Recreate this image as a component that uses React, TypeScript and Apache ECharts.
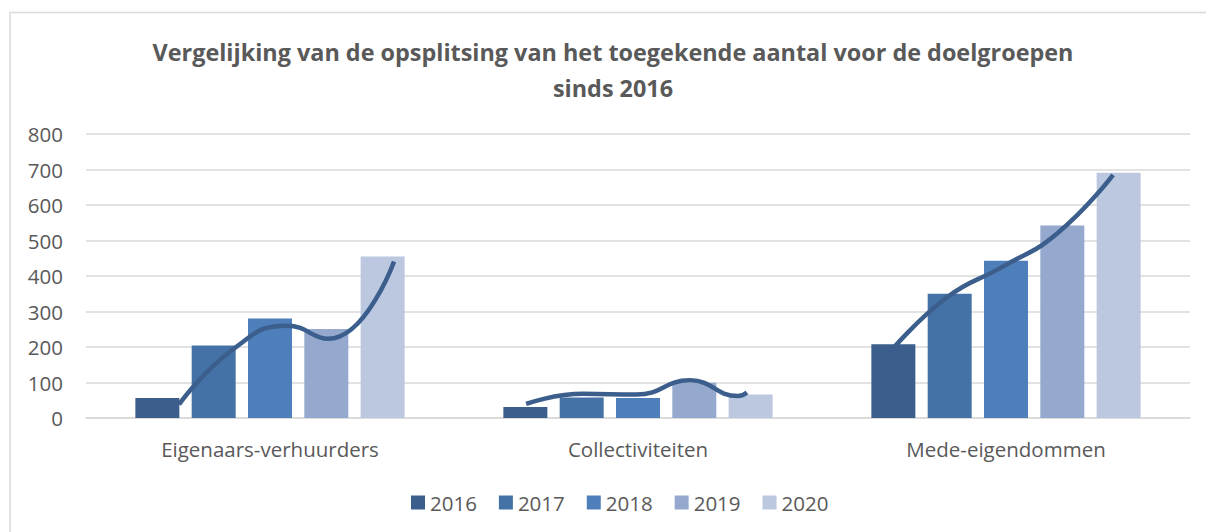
import React, { useEffect, useRef } from "react";
import * as echarts from "echarts";

const categories = ["Eigenaars-verhuurders", "Collectiviteiten", "Mede-eigendommen"];
const years = ["2016", "2017", "2018", "2019", "2020"];
const values2016 = [56, 31, 208];
const values2017 = [204, 58, 350];
const values2018 = [280, 56, 443];
const values2019 = [251, 99, 542];
const values2020 = [455, 66, 691];
const seriesValues = [values2016, values2017, values2018, values2019, values2020];
const yTicks = [0, 100, 200, 300, 400, 500, 600, 700, 800];
const titleText = "Vergelijking van de opsplitsing van het toegekende aantal voor de doelgroepen\nsinds 2016";

// trend curves drawn over each group: [position in category units, value]
const curveEigenaars = [[0.253, 38], [0.399, 193], [0.546, 260], [0.658, 223], [0.837, 441]];
const curveCollectiviteiten = [[1.196, 40], [1.351, 68], [1.495, 66], [1.641, 106], [1.772, 62], [1.796, 72]];
const curveMede = [[2.19, 192], [2.34, 340], [2.489, 425], [2.639, 520], [2.791, 685]];
const curves = [curveEigenaars, curveCollectiviteiten, curveMede];

const colors = ["#3B5E8C", "#4472A6", "#4E7FBA", "#95A9CF", "#BBC8E0"];
const FONT = "'Open Sans', 'Noto Sans', sans-serif";

export default function App() {
  const ref = useRef<HTMLDivElement>(null);
  useEffect(() => {
    if (!ref.current) return;
    const chart = echarts.init(ref.current, undefined, { renderer: "svg" });
    const barSeries = years.map((y, i) => ({
      name: y,
      type: "bar",
      xAxisIndex: 0,
      yAxisIndex: 0,
      data: seriesValues[i],
      barWidth: 44,
      barGap: "28%",
      itemStyle: { color: colors[i] },
      z: 2,
    }));
    const lineSeries = curves.map((c, i) => ({
      name: "curve" + i,
      type: "line",
      xAxisIndex: 1,
      yAxisIndex: 0,
      data: c,
      smooth: 0.5,
      symbol: "none",
      lineStyle: { color: "#3B5E8C", width: 4.5 },
      z: 5,
    }));
    chart.setOption({
      animation: false,
      backgroundColor: "#ffffff",
      legend: {
        data: years,
        top: 487,
        left: 406,
        itemWidth: 14,
        itemHeight: 14,
        itemGap: 22,
        icon: "rect",
        textStyle: { fontFamily: FONT, fontSize: 20.5, color: "#595959" },
      },
      grid: { left: 86, right: 16, top: 134, bottom: 114, containLabel: false },
      xAxis: [
        {
          type: "category",
          data: categories,
          axisLine: { lineStyle: { color: "#D9D9D9", width: 1.5 } },
          axisTick: { show: false },
          axisLabel: { fontFamily: FONT, fontSize: 20.5, color: "#595959", margin: 20 },
        },
        {
          type: "value",
          min: 0,
          max: 3,
          show: false,
        },
      ],
      yAxis: {
        type: "value",
        min: 0,
        max: 800,
        interval: 100,
        axisLine: { show: false },
        axisTick: { show: false },
        splitLine: { lineStyle: { color: "#D9D9D9", width: 1.5 } },
        axisLabel: {
          fontFamily: FONT,
          fontSize: 20.5,
          color: "#595959",
          margin: 23,
          formatter: (v: number) => (yTicks.includes(v) ? String(v) : ""),
        },
      },
      graphic: [
        {
          type: "rect",
          shape: { x: 10, y: 12.5, width: 1200, height: 530 },
          style: { fill: "none", stroke: "#D9D9D9", lineWidth: 1.5 },
          silent: true,
        },
        {
          type: "text",
          x: 613,
          y: 34,
          silent: true,
          style: {
            text: titleText,
            align: "center",
            verticalAlign: "top",
            fontFamily: FONT,
            fontWeight: "bold",
            fontSize: 23.4,
            lineHeight: 36,
            fill: "#595959",
          },
        },
      ],
      series: [...barSeries, ...lineSeries],
    });
    return () => chart.dispose();
  }, []);
  return (
    <div
      ref={ref}
      style={{ position: "fixed", left: 0, top: 0, width: 1206, height: 532 }}
    />
  );
}
